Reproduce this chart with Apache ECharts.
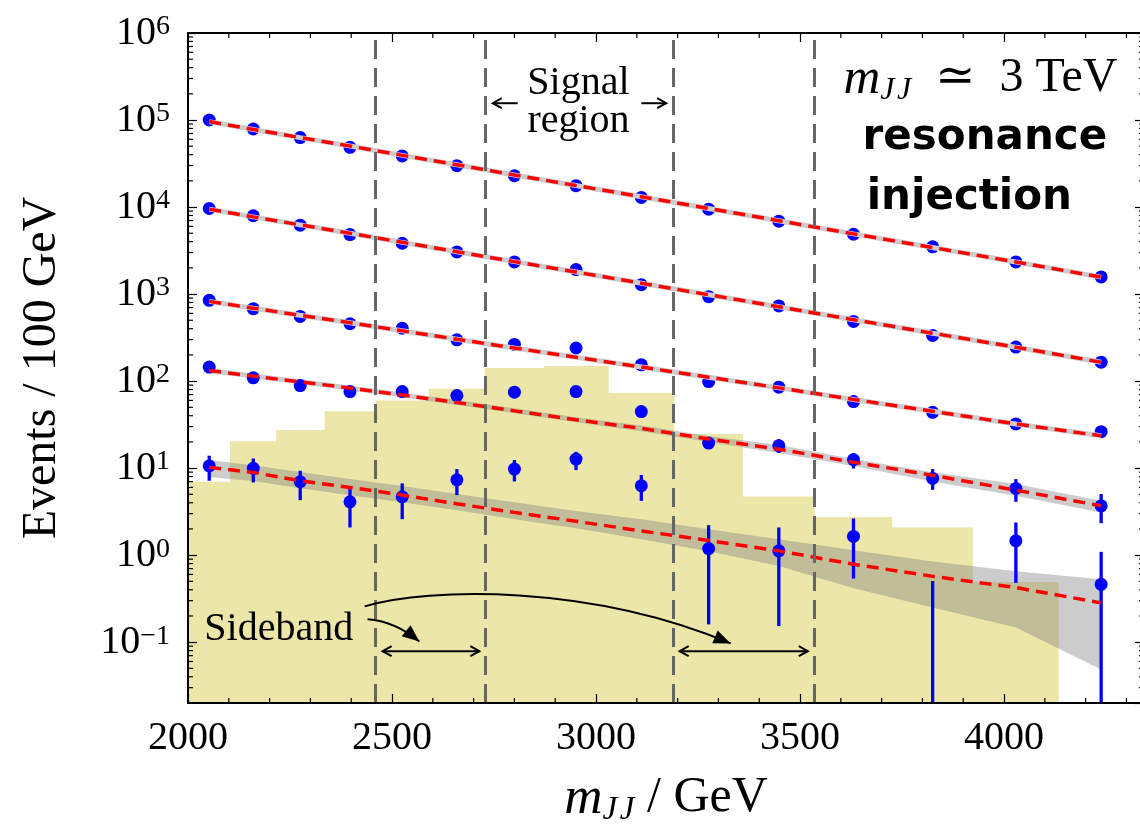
<!DOCTYPE html>
<html>
<head>
<meta charset="utf-8">
<title>CWoLa sideband fit</title>
<script src="https://cdn.jsdelivr.net/npm/echarts@6/dist/echarts.min.js"></script>
<style>
  html, body { margin: 0; padding: 0; background: #fff; }
  #chart { width: 1140px; height: 824px; }
</style>
</head>
<body>
<div id="chart"></div>
<script>
// bins in m_JJ (GeV)
var binEdges   = [2000, 2103, 2216, 2335, 2460, 2590, 2727, 2872, 3031, 3192, 3360, 3536, 3726, 3924, 4134, 4343];
var binCenters = [2052, 2160, 2275, 2397, 2525, 2659, 2800, 2951, 3111, 3276, 3448, 3631, 3825, 4029, 4238];

// injected signal (yellow histogram)
var signal = [6.97, 20.3, 27.4, 45.1, 59.7, 81.5, 141, 149, 73.2, 24.7, 4.73, 2.75, 2.08, 0.491, null];

// data points, one row per selection
var dataA = [100000, 78900, 62900, 48600, 38700, 29900, 22900, 17600, 12900, 9460, 6880, 4870, 3490, 2340, 1574];
var dataB = [9630, 7940, 6190, 4830, 3840, 3050, 2340, 1910, 1283, 933, 730, 485, 334, 246, 165];
var dataC = [847, 679, 554, 456, 405, 298, 264, 240, 154, 98.8, 85.1, 58.1, 43.8, 32.2, 26.2];
var dataD = [145, 109, 88.8, 75.8, 75.8, 68.2, 74.6, 75.8, 44.6, 19.4, 18.1, 12.5, 7.62, 5.85, 3.69];
var dataE = [10.6, 9.94, 6.97, 4.10, 4.68, 7.34, 9.75, 12.7, 6.27, 1.19, 1.12, 1.64, null, 1.46, 0.462];

// error bars (only where they show outside the marker)
var errDLo = [null, null, null, null, null, null, null, null, null, 17.5, 14.9, 9.9, 5.63, 4.10, 2.33];
var errDHi = [null, null, null, null, null, null, null, null, null, 21.0, 21.5, 14.9, 9.75, 7.48, 5.03];
var errELo = [7.16, 6.85, 4.28, 2.08, 2.59, 4.90, 7.03, 9.49, 4.21, 0.16, 0.153, 0.538, 0.01, 0.48, 0.01];
var errEHi = [13.9, 12.9, 9.33, 5.74, 6.68, 9.74, 12.4, 15.4, 8.34, 2.21, 2.08, 2.64, 0.505, 2.37, 1.09];

// sideband fits
var fitA = [95950, 78000, 62800, 50250, 39270, 30600, 23400, 17660, 13130, 9630, 6970, 4920, 3430, 2340, 1566];
var fitB = [9460, 7710, 6240, 5000, 3930, 3070, 2360, 1790, 1333, 982, 714, 508, 355, 245, 165];
var fitC = [824, 688, 570, 469, 378, 303, 240, 188, 145, 111, 83.6, 61.6, 45.0, 32.2, 23.5];
var fitD = [132, 114, 98, 83.2, 69.1, 56.7, 45.5, 35.9, 28.6, 21.6, 16.5, 11.7, 8.26, 5.58, 3.69];
var fitE = [10.2, 8.93, 7.16, 6.0, 4.90, 3.89, 3.10, 2.45, 1.90, 1.47, 1.12, 0.786, 0.571, 0.424, 0.283];

// fit uncertainty bands
var bandDLo = [123, 107, 92, 78, 65, 53, 42.6, 33.6, 26.6, 20.0, 14.9, 10.6, 7.04, 4.81, 3.10];
var bandDHi = [141, 122, 105, 89, 74, 60.6, 48.6, 38.4, 30.8, 23.4, 18.4, 12.7, 8.94, 6.56, 4.21];
var bandELo = [7.89, 7.10, 5.89, 4.89, 4.06, 3.29, 2.59, 2.04, 1.52, 1.11, 0.751, 0.416, 0.250, 0.147, 0.0485];
var bandEHi = [12.4, 10.8, 9.01, 7.48, 6.22, 5.03, 4.06, 3.21, 2.59, 1.99, 1.52, 1.14, 0.844, 0.653, 0.528];

// sideband / signal region boundaries
var regionEdges = [2460, 2728, 3190, 3534];

var X_MIN = 2000, X_MAX = 4343, Y_MIN = 0.02, Y_MAX = 1e6;
var SERIF = '"Liberation Serif", "DejaVu Serif", serif';

var chart = echarts.init(document.getElementById('chart'));

function pairs(ys) {
  var out = [];
  binCenters.forEach(function (x, i) { if (ys[i] != null) out.push([x, ys[i]]); });
  return out;
}
function errRows(lo, hi) {
  var out = [];
  binCenters.forEach(function (x, i) { if (hi[i] != null) out.push([x, lo[i], hi[i]]); });
  return out;
}

// minor tick positions
var xMinor = [];
for (var xv = 2100; xv < X_MAX; xv += 100) { if (xv % 500 !== 0) xMinor.push(xv); }
var yMinor = [];
for (var k = -2; k <= 5; k++) {
  for (var m = 2; m <= 9; m++) {
    var v = m * Math.pow(10, k);
    if (v > Y_MIN && v < Y_MAX) yMinor.push(v);
  }
}

function tickLine(x1, y1, x2, y2) {
  return { type: 'line', shape: { x1: x1, y1: y1, x2: x2, y2: y2 }, style: { stroke: '#000', lineWidth: 1.2 } };
}

function bandSeries(lo, hi) {
  return {
    type: 'custom', silent: true,
    data: [[binCenters[0], lo[0]]],
    renderItem: function (params, api) {
      var pts = [];
      for (var i = 0; i < binCenters.length; i++) pts.push(api.coord([binCenters[i], hi[i]]));
      for (var j = binCenters.length - 1; j >= 0; j--) pts.push(api.coord([binCenters[j], Math.max(lo[j], Y_MIN)]));
      return { type: 'polygon', shape: { points: pts }, style: { fill: 'rgba(128,128,128,0.4)' } };
    }
  };
}

function fitSeries(d) {
  return {
    type: 'line', data: pairs(d), symbol: 'none', silent: true,
    lineStyle: { color: '#ff0000', width: 3.5, type: [12, 7] }
  };
}
function underSeries(d) {
  return {
    type: 'line', data: pairs(d), symbol: 'none', silent: true,
    lineStyle: { color: '#cccccc', width: 5 }
  };
}
function pointSeries(d) {
  return {
    type: 'scatter', data: pairs(d), symbol: 'circle', symbolSize: 13, silent: true,
    itemStyle: { color: '#0000ff', opacity: 1 }
  };
}
function errSeries(lo, hi) {
  return {
    type: 'custom', silent: true,
    data: errRows(lo, hi),
    encode: { x: 0, y: [1, 2] },
    renderItem: function (params, api) {
      var x = api.value(0);
      var p1 = api.coord([x, Math.max(api.value(1), Y_MIN)]);
      var p2 = api.coord([x, api.value(2)]);
      return { type: 'line', shape: { x1: p1[0], y1: p1[1], x2: p2[0], y2: p2[1] },
               style: { stroke: '#0000ff', lineWidth: 3.3 } };
    }
  };
}

var axisLine = { show: true, onZero: false, lineStyle: { color: '#000', width: 2 } };

// m_JJ with a lowered italic subscript
var mjjRich = function (big, small) {
  return {
    i: { fontFamily: SERIF, fontStyle: 'italic', fontSize: big + 3, lineHeight: big, verticalAlign: 'top', color: '#000' },
    s: { fontFamily: SERIF, fontStyle: 'italic', fontSize: small, lineHeight: small, verticalAlign: 'top',
         padding: [Math.round(big * 0.42), 0, 0, 0], color: '#000' },
    r: { fontFamily: SERIF, fontSize: big, lineHeight: big, verticalAlign: 'top', color: '#000' }
  };
};

var option = {
  animation: false,
  backgroundColor: '#fff',
  grid: { left: 188, top: 33, width: 956, height: 670, outerBoundsMode: 'none', containLabel: false },
  xAxis: [{
    type: 'value', min: X_MIN, max: X_MAX, interval: 500, position: 'bottom', z: 10,
    axisLine: axisLine,
    axisTick: { inside: true, length: 9, lineStyle: { color: '#000', width: 1.2 } },
    splitLine: { show: false },
    axisLabel: {
      margin: 15, showMaxLabel: false, fontFamily: SERIF, fontSize: 40, color: '#000',
      formatter: function (val) { return String(val); }
    },
    name: '{i|m}{s|J\u200aJ}{r| / GeV}',
    nameLocation: 'middle', nameGap: 70,
    nameTextStyle: { color: '#000', rich: mjjRich(50, 33) }
  }, {
    type: 'value', min: X_MIN, max: X_MAX, interval: 500, position: 'top', z: 10,
    axisLine: axisLine,
    axisTick: { inside: true, length: 9, lineStyle: { color: '#000', width: 1.2 } },
    splitLine: { show: false },
    axisLabel: { show: false }
  }],
  yAxis: [{
    type: 'log', logBase: 10, min: Y_MIN, max: Y_MAX, position: 'left', z: 10,
    axisLine: axisLine,
    axisTick: { inside: true, length: 9, lineStyle: { color: '#000', width: 1.2 } },
    splitLine: { show: false },
    minorTick: { show: false },
    axisLabel: {
      margin: 18, showMinLabel: false,
      formatter: function (val) {
        var e = Math.round(Math.log10(val));
        return '{b|10}{e|' + (e < 0 ? '\u2212' + (-e) : e) + '}';
      },
      rich: {
        b: { fontFamily: SERIF, fontSize: 40, lineHeight: 40, color: '#000' },
        e: { fontFamily: SERIF, fontSize: 28, lineHeight: 24, verticalAlign: 'top', color: '#000' }
      }
    },
    name: 'Events / 100 GeV',
    nameLocation: 'middle', nameGap: 122, nameRotate: 90,
    nameTextStyle: { fontFamily: SERIF, fontSize: 48, color: '#000' }
  }, {
    type: 'log', logBase: 10, min: Y_MIN, max: Y_MAX, position: 'right', z: 10,
    axisLine: axisLine,
    axisTick: { inside: true, length: 9, lineStyle: { color: '#000', width: 1.2 } },
    splitLine: { show: false },
    axisLabel: { show: false }
  }],
  series: [
    // injected signal histogram
    {
      type: 'custom', silent: true,
      data: [[binEdges[0], Y_MIN]],
      renderItem: function (params, api) {
        var pts = [api.coord([binEdges[0], Y_MIN])];
        for (var i = 0; i < signal.length; i++) {
          var s = signal[i] == null ? Y_MIN : Math.max(signal[i], Y_MIN);
          pts.push(api.coord([binEdges[i], s]));
          pts.push(api.coord([binEdges[i + 1], s]));
        }
        pts.push(api.coord([binEdges[binEdges.length - 1], Y_MIN]));
        return { type: 'polygon', shape: { points: pts }, style: { fill: '#ECE6A9' } };
      }
    },
    bandSeries(bandDLo, bandDHi),
    bandSeries(bandELo, bandEHi),
    // region boundaries
    {
      type: 'line', data: [], silent: true,
      markLine: {
        silent: true, symbol: 'none', label: { show: false },
        lineStyle: { color: '#666666', width: 3, type: [19, 9] },
        data: regionEdges.map(function (x) { return { xAxis: x }; })
      }
    },
    underSeries(fitA), underSeries(fitB), underSeries(fitC),
    fitSeries(fitA), fitSeries(fitB), fitSeries(fitC), fitSeries(fitD), fitSeries(fitE),
    errSeries(errDLo, errDHi), errSeries(errELo, errEHi),
    pointSeries(dataA), pointSeries(dataB), pointSeries(dataC), pointSeries(dataD), pointSeries(dataE),
    // minor ticks on all four sides
    {
      type: 'custom', silent: true, z: 20,
      data: [[X_MIN, 1]],
      renderItem: function (params, api) {
        var cs = params.coordSys;
        var left = cs.x, right = cs.x + cs.width, top = cs.y, bottom = cs.y + cs.height;
        var children = [];
        xMinor.forEach(function (x) {
          var px = api.coord([x, 1])[0];
          children.push(tickLine(px, bottom, px, bottom - 5), tickLine(px, top, px, top + 5));
        });
        yMinor.forEach(function (y) {
          var py = api.coord([X_MIN, y])[1];
          children.push(tickLine(left, py, left + 5, py), tickLine(right, py, right - 5, py));
        });
        return { type: 'group', children: children };
      }
    }
  ]
};

chart.setOption(option);

// ---- annotations, placed in data coordinates ----
function toPx(x, y) { return chart.convertToPixel({ xAxisIndex: 0, yAxisIndex: 0 }, [x, y]); }

function head(tip, from, len, half, filled) {
  var dx = tip[0] - from[0], dy = tip[1] - from[1];
  var d = Math.sqrt(dx * dx + dy * dy); dx /= d; dy /= d;
  var bx = tip[0] - dx * len, by = tip[1] - dy * len;
  var pts = [[bx - dy * half, by + dx * half], tip, [bx + dy * half, by - dx * half]];
  if (filled) return { type: 'polygon', silent: true, z: 30, shape: { points: pts }, style: { fill: '#000' } };
  return { type: 'polyline', silent: true, z: 30, shape: { points: pts }, style: { stroke: '#000', lineWidth: 2, fill: null } };
}
function segment(a, b) {
  return { type: 'line', silent: true, z: 30, shape: { x1: a[0], y1: a[1], x2: b[0], y2: b[1] }, style: { stroke: '#000', lineWidth: 2 } };
}
function curve(shape) {
  return { type: 'bezierCurve', silent: true, z: 30, shape: shape, style: { stroke: '#000', lineWidth: 2, fill: null } };
}
function label(text, p, align, font, extra) {
  var st = { text: text, x: p[0], y: p[1], font: font, fill: '#000',
             align: align, textAlign: align, verticalAlign: 'middle', textVerticalAlign: 'middle' };
  if (extra) { for (var key in extra) st[key] = extra[key]; }
  return { type: 'text', silent: true, z: 30, style: st };
}

var g = [];

// signal region label and arrows
g.push(label('Signal\nregion', toPx(2957, 1.6e5), 'center', '40px ' + SERIF, { lineHeight: 38 }));
var sy = 1.56e5;
var sl0 = toPx(2808, sy), sl1 = toPx(2747, sy), sr0 = toPx(3111, sy), sr1 = toPx(3172, sy);
g.push(segment(sl0, sl1), head(sl1, sl0, 9, 5), segment(sr0, sr1), head(sr1, sr0, 9, 5));

// top-right labels
g.push(label('{i|m}{s|J\u200aJ}{r|  \u2243  3 TeV}', toPx(4278, 3.0e5), 'right', '48px ' + SERIF, {
  rich: mjjRich(48, 32)
}));
g.push(label('resonance', toPx(3953, 6.17e4), 'center', 'bold 42px "DejaVu Sans", sans-serif'));
g.push(label('injection', toPx(3915, 1.26e4), 'center', 'bold 42px "DejaVu Sans", sans-serif'));

// sideband label and arrows
g.push(label('Sideband', toPx(2040, 0.141), 'left', '40px ' + SERIF));
var by = 0.0788;
[[2477, 2714], [3205, 3519]].forEach(function (r) {
  var a = toPx(r[0], by), b = toPx(r[1], by);
  g.push(segment(a, b), head(a, b, 9, 5), head(b, a, 9, 5));
});
// short curved arrow
var c1a = toPx(2440, 0.183), c1c = toPx(2506, 0.174), c1b = toPx(2567, 0.102);
g.push(curve({ x1: c1a[0], y1: c1a[1], x2: c1b[0], y2: c1b[1], cpx1: c1c[0], cpy1: c1c[1] }));
g.push(head(c1b, c1c, 17, 7, true));
// long curved arrow
var c2a = toPx(2433, 0.258), c2p = toPx(2592, 0.427), c2q = toPx(2984, 0.463), c2b = toPx(3330, 0.0967);
g.push(curve({ x1: c2a[0], y1: c2a[1], x2: c2b[0], y2: c2b[1], cpx1: c2p[0], cpy1: c2p[1], cpx2: c2q[0], cpy2: c2q[1] }));
g.push(head(c2b, c2q, 17, 7, true));

chart.setOption({ graphic: g });
</script>
</body>
</html>
